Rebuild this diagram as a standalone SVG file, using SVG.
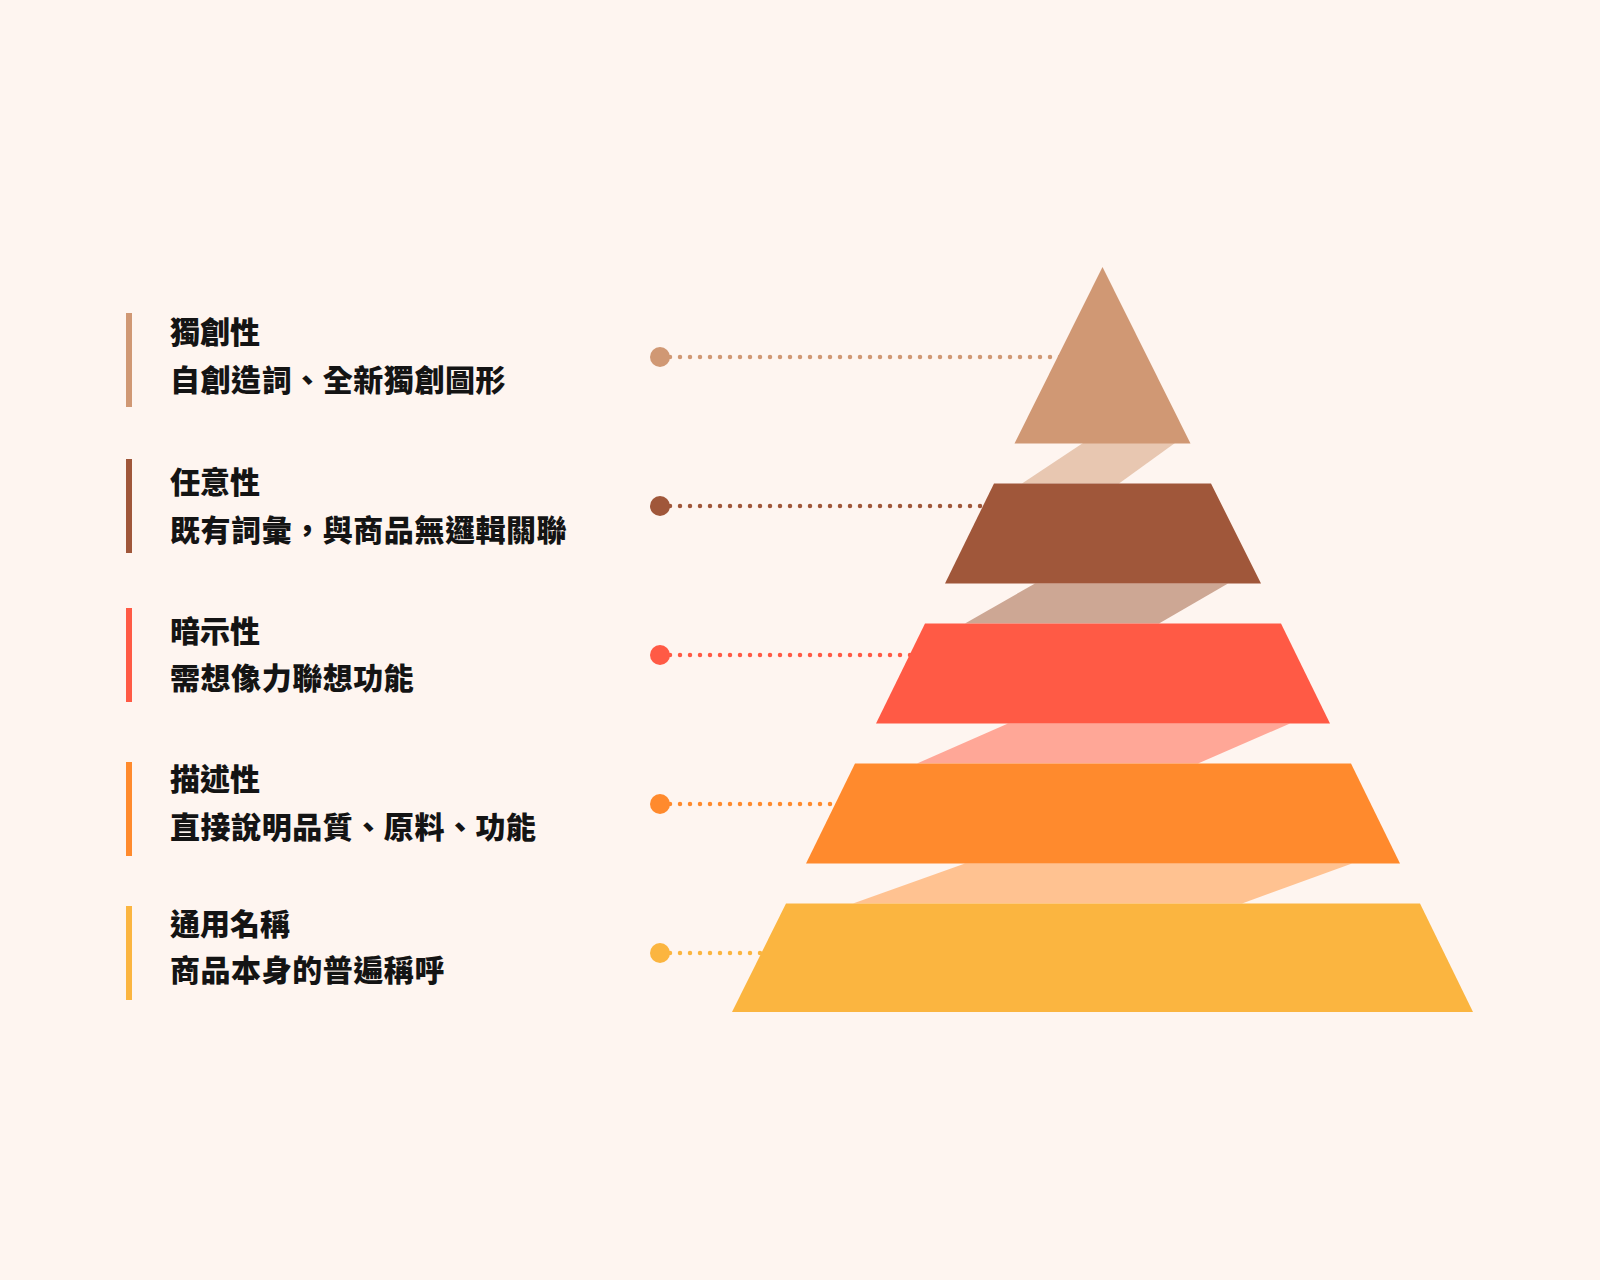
<svg xmlns="http://www.w3.org/2000/svg" width="1600" height="1280" viewBox="0 0 1600 1280" lang="zh-TW" xml:lang="zh-TW">
  <style>
    .title, .desc { font-family: "Noto Sans CJK TC", "Noto Sans CJK SC", "Noto Sans", sans-serif; font-weight: 900; font-size: 30px; fill: #141414; }
    .desc { letter-spacing: 0.55px; }
    .dots { fill: none; stroke-width: 4.5; stroke-linecap: round; stroke-dasharray: 0 10; }
  </style>
  <rect x="0" y="0" width="1600" height="1280" fill="#FEF5F0"/>

  <g id="connectors">
    <line class="dots" x1="670" y1="357" x2="1100" y2="357" stroke="#D09874"/>
    <line class="dots" x1="670" y1="506" x2="1100" y2="506" stroke="#A0573A"/>
    <line class="dots" x1="670" y1="655" x2="1100" y2="655" stroke="#FF5A45"/>
    <line class="dots" x1="670" y1="804" x2="1100" y2="804" stroke="#FF8A2D"/>
    <line class="dots" x1="670" y1="953" x2="1100" y2="953" stroke="#FBB540"/>
    <circle cx="660" cy="357" r="10" fill="#D09874"/>
    <circle cx="660" cy="506" r="10" fill="#A0573A"/>
    <circle cx="660" cy="655" r="10" fill="#FF5A45"/>
    <circle cx="660" cy="804" r="10" fill="#FF8A2D"/>
    <circle cx="660" cy="953" r="10" fill="#FBB540"/>
  </g>

  <g id="bands">
    <polygon points="1083,443 1175,443 1119,483.5 1022,483.5" fill="#E8C7B1"/>
    <polygon points="1035,583.5 1228,583.5 1159,623.5 965,623.5" fill="#CDA794"/>
    <polygon points="1008,723.5 1290,723.5 1198,763.5 917,763.5" fill="#FFA797"/>
    <polygon points="965,863.5 1352,863.5 1242,903.5 853,903.5" fill="#FFC291"/>
  </g>

  <g id="tier-1">
    <polygon points="1102.5,267 1190.5,443.5 1014.5,443.5" fill="#D09874"/>
    <rect x="126" y="313" width="6" height="94" fill="#D09874"/>
    <text class="title" x="170" y="343">獨創性</text>
    <text class="desc" x="170" y="391">自創造詞、全新獨創圖形</text>
  </g>

  <g id="tier-2">
    <polygon points="994,483.5 1211,483.5 1261,583.5 945,583.5" fill="#A0573A"/>
    <rect x="126" y="459" width="6" height="94" fill="#A0573A"/>
    <text class="title" x="170" y="493">任意性</text>
    <text class="desc" x="170" y="540.5">既有詞彙，與商品無邏輯關聯</text>
  </g>

  <g id="tier-3">
    <polygon points="925,623.5 1281,623.5 1330,723.5 876,723.5" fill="#FF5A45"/>
    <rect x="126" y="608" width="6" height="94" fill="#FF5A45"/>
    <text class="title" x="170" y="642">暗示性</text>
    <text class="desc" x="170" y="689">需想像力聯想功能</text>
  </g>

  <g id="tier-4">
    <polygon points="855,763.5 1351,763.5 1400,863.5 806,863.5" fill="#FF8A2D"/>
    <rect x="126" y="762" width="6" height="94" fill="#FF8A2D"/>
    <text class="title" x="170" y="790">描述性</text>
    <text class="desc" x="170" y="838">直接說明品質、原料、功能</text>
  </g>

  <g id="tier-5">
    <polygon points="786,903.5 1420,903.5 1473,1012 732,1012" fill="#FBB540"/>
    <rect x="126" y="906" width="6" height="94" fill="#FBB540"/>
    <text class="title" x="170" y="934.5">通用名稱</text>
    <text class="desc" x="170" y="981">商品本身的普遍稱呼</text>
  </g>
</svg>
